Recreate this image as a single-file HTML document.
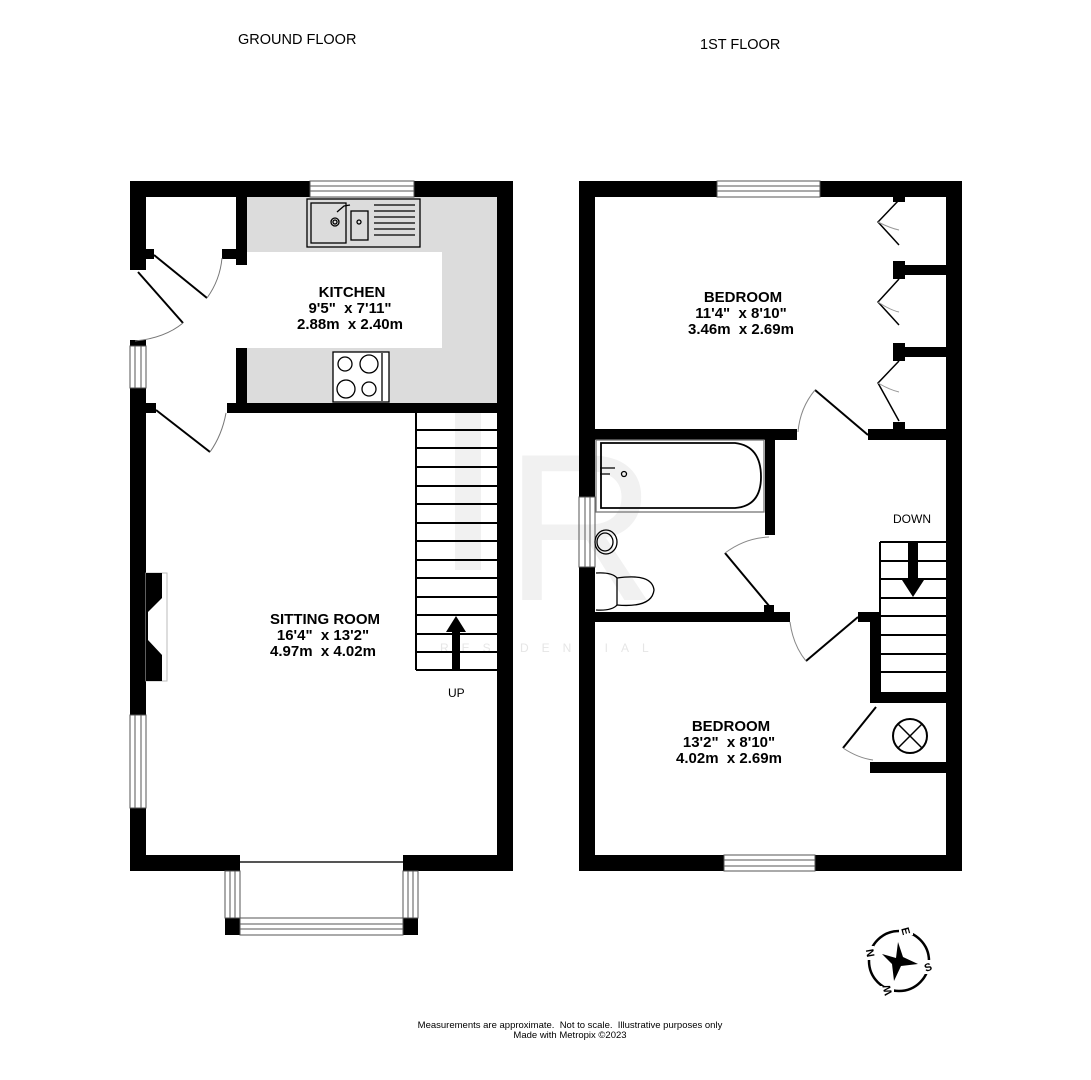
<!DOCTYPE html>
<html><head><meta charset="utf-8"><style>
html,body{margin:0;padding:0;background:#fff}
svg{display:block}
text{font-family:"Liberation Sans",Arial,sans-serif;white-space:pre}
</style></head><body>
<svg width="1091" height="1080" viewBox="0 0 1091 1080" xmlns="http://www.w3.org/2000/svg">
<rect width="1091" height="1080" fill="#fff"/>
<!-- watermark -->
<g>
<rect x="455" y="395" width="26" height="175" fill="#f1f1f1"/>
<text x="505" y="600" font-family="Liberation Serif,serif" font-size="210" fill="#f1f1f1">R</text>
<text x="440" y="652" font-size="12" letter-spacing="13" fill="#e6e6e6">RESIDENTIAL</text>
</g>
<text x="238" y="44" font-size="14.5">GROUND FLOOR</text>
<text x="700" y="49" font-size="14.5">1ST FLOOR</text>

<!-- ================= GROUND FLOOR ================= -->
<rect x="247" y="197" width="250" height="206" fill="#dcdcdc"/>
<rect x="247" y="252" width="195" height="96" fill="#fff"/>
<g fill="#000">
<rect x="130" y="181" width="180" height="16"/>
<rect x="414" y="181" width="99" height="16"/>
<rect x="497" y="181" width="16" height="689"/>
<rect x="130" y="181" width="16" height="89"/>
<rect x="146" y="249" width="8" height="10"/>
<rect x="130" y="340" width="16" height="6"/>
<rect x="130" y="388" width="16" height="327"/>
<rect x="130" y="808" width="16" height="62"/>
<rect x="146" y="403" width="10" height="10"/>
<rect x="130" y="855" width="110" height="16"/>
<rect x="403" y="855" width="110" height="16"/>
<rect x="236" y="197" width="11" height="68"/>
<rect x="222" y="249" width="25" height="10"/>
<rect x="236" y="348" width="11" height="60"/>
<rect x="227" y="403" width="270" height="10"/>
<rect x="225" y="855" width="15" height="16"/>
<rect x="403" y="855" width="15" height="16"/>
<rect x="225" y="918" width="15" height="17"/>
<rect x="403" y="918" width="15" height="17"/>
</g>
<g fill="none" stroke="#555" stroke-width="1">
<rect x="310" y="181" width="104" height="16"/>
<line x1="310" y1="186" x2="414" y2="186"/><line x1="310" y1="191" x2="414" y2="191"/>
<rect x="130" y="346" width="16" height="42"/>
<line x1="135" y1="346" x2="135" y2="388"/><line x1="141" y1="346" x2="141" y2="388"/>
<rect x="130" y="715" width="16" height="93"/>
<line x1="135" y1="715" x2="135" y2="808"/><line x1="141" y1="715" x2="141" y2="808"/>
<line x1="240" y1="862" x2="403" y2="862" stroke-width="2"/>
<rect x="225" y="871" width="15" height="47"/>
<line x1="230" y1="871" x2="230" y2="918"/><line x1="235" y1="871" x2="235" y2="918"/>
<rect x="403" y="871" width="15" height="47"/>
<line x1="408" y1="871" x2="408" y2="918"/><line x1="413" y1="871" x2="413" y2="918"/>
<rect x="240" y="918" width="163" height="17"/>
<line x1="240" y1="924" x2="403" y2="924"/><line x1="240" y1="929" x2="403" y2="929"/>
</g>
<g fill="none" stroke="#000" stroke-width="2">
<line x1="154" y1="255" x2="207" y2="298"/>
<line x1="138" y1="272" x2="183" y2="323"/>
<line x1="156" y1="410" x2="210" y2="452"/>
</g>
<g fill="none" stroke="#777" stroke-width="1">
<path d="M207 298 Q220 280 222 258"/>
<path d="M183 323 Q165 338 135 341"/>
<path d="M210 452 Q222 435 226 413"/>
</g>
<g fill="none" stroke="#000" stroke-width="1.3">
<rect x="307" y="199" width="113" height="48"/>
<rect x="311" y="203" width="35" height="40"/>
<rect x="351" y="211" width="17" height="29"/>
<circle cx="335" cy="222" r="4"/><circle cx="335" cy="222" r="2"/>
<circle cx="359" cy="222" r="2"/>
<path d="M337 212 L344 206 L350 205"/>
<line x1="374" y1="205" x2="415" y2="205"/><line x1="374" y1="211" x2="415" y2="211"/>
<line x1="374" y1="217" x2="415" y2="217"/><line x1="374" y1="223" x2="415" y2="223"/>
<line x1="374" y1="229" x2="415" y2="229"/><line x1="374" y1="235" x2="415" y2="235"/>
<rect x="333" y="352" width="56" height="50" fill="#fff"/>
<circle cx="345" cy="364" r="7"/><circle cx="369" cy="364" r="9"/>
<circle cx="346" cy="389" r="9"/><circle cx="369" cy="389" r="7"/>
<line x1="382" y1="353" x2="382" y2="401"/>
</g>
<text x="352" y="297" font-size="15" font-weight="bold" text-anchor="middle">KITCHEN</text>
<text x="350" y="313" font-size="15" font-weight="bold" text-anchor="middle">9'5"  x 7'11"</text>
<text x="350" y="329" font-size="15" font-weight="bold" text-anchor="middle">2.88m  x 2.40m</text>
<rect x="146" y="573" width="21" height="108" fill="none" stroke="#bbb"/>
<path d="M146 573 H162 V598 L148 612 V640 L162 655 V681 H146Z" fill="#000"/>
<g stroke="#000" stroke-width="2" fill="none">
<line x1="416" y1="413" x2="416" y2="670"/>
<line x1="416" y1="670" x2="497" y2="670"/>
<line x1="416" y1="430" x2="497" y2="430"/><line x1="416" y1="448" x2="497" y2="448"/>
<line x1="416" y1="467" x2="497" y2="467"/><line x1="416" y1="486" x2="497" y2="486"/>
<line x1="416" y1="504" x2="497" y2="504"/><line x1="416" y1="523" x2="497" y2="523"/>
<line x1="416" y1="541" x2="497" y2="541"/><line x1="416" y1="560" x2="497" y2="560"/>
<line x1="416" y1="578" x2="497" y2="578"/><line x1="416" y1="597" x2="497" y2="597"/>
<line x1="416" y1="615" x2="497" y2="615"/><line x1="416" y1="634" x2="497" y2="634"/>
<line x1="416" y1="652" x2="497" y2="652"/>
</g>
<path d="M452 670 V632 H446 L456 616 L466 632 H460 V670Z" fill="#000"/>
<text x="448" y="697" font-size="12">UP</text>
<text x="325" y="624" font-size="15" font-weight="bold" text-anchor="middle">SITTING ROOM</text>
<text x="323" y="640" font-size="15" font-weight="bold" text-anchor="middle">16'4"  x 13'2"</text>
<text x="323" y="656" font-size="15" font-weight="bold" text-anchor="middle">4.97m  x 4.02m</text>

<!-- ================= FIRST FLOOR ================= -->
<g fill="#000">
<rect x="579" y="181" width="138" height="16"/>
<rect x="820" y="181" width="142" height="16"/>
<rect x="946" y="181" width="16" height="689"/>
<rect x="579" y="181" width="16" height="316"/>
<rect x="579" y="567" width="16" height="303"/>
<rect x="579" y="855" width="145" height="16"/>
<rect x="815" y="855" width="147" height="16"/>
<rect x="595" y="429" width="202" height="11"/>
<rect x="868" y="429" width="78" height="11"/>
<rect x="765" y="440" width="10" height="95"/>
<rect x="595" y="612" width="195" height="10"/>
<rect x="764" y="605" width="10" height="8"/>
<rect x="858" y="612" width="22" height="10"/>
<rect x="870" y="612" width="10" height="88"/>
<rect x="870" y="692" width="76" height="11"/>
<rect x="870" y="762" width="76" height="11"/>
<rect x="895" y="265" width="51" height="10"/>
<rect x="895" y="347" width="51" height="10"/>
<rect x="893" y="261" width="12" height="18"/>
<rect x="893" y="343" width="12" height="18"/>
<rect x="893" y="422" width="12" height="8"/>
<rect x="893" y="196" width="12" height="6"/>
</g>
<g fill="none" stroke="#555" stroke-width="1">
<rect x="717" y="181" width="103" height="16"/>
<line x1="717" y1="186" x2="820" y2="186"/><line x1="717" y1="191" x2="820" y2="191"/>
<rect x="724" y="855" width="91" height="16"/>
<line x1="724" y1="860" x2="815" y2="860"/><line x1="724" y1="866" x2="815" y2="866"/>
<rect x="579" y="497" width="16" height="70"/>
<line x1="585" y1="497" x2="585" y2="567"/><line x1="590" y1="497" x2="590" y2="567"/>
</g>
<g fill="none" stroke="#000" stroke-width="1.5">
<path d="M899 200 L878 222 L899 245"/>
<path d="M899 279 L878 302 L899 325"/>
<path d="M899 361 L878 383 L899 421"/>
</g>
<g fill="none" stroke="#999" stroke-width="1">
<path d="M878 222 Q890 228 899 230"/><path d="M878 302 Q890 310 899 312"/><path d="M878 383 Q890 390 899 392"/>
</g>
<g fill="none" stroke="#000" stroke-width="2">
<line x1="868" y1="435" x2="815" y2="390"/>
<line x1="770" y1="607" x2="725" y2="553"/>
<line x1="858" y1="617" x2="806" y2="661"/>
<line x1="876" y1="707" x2="843" y2="748"/>
</g>
<g fill="none" stroke="#888" stroke-width="1">
<path d="M815 390 Q800 408 798 432"/>
<path d="M725 553 Q745 538 769 537"/>
<path d="M806 661 Q793 645 790 622"/>
<path d="M843 748 Q858 758 873 760"/>
</g>
<g fill="none" stroke="#000" stroke-width="1.3">
<rect x="596" y="440" width="168" height="72" stroke="#777"/>
<path d="M601 443 H735 Q761 446 761 477 Q761 506 735 508 H601Z" stroke-width="1.8"/>
<circle cx="624" cy="474" r="2.5"/>
<path d="M600 468 H615 M600 474 H610" />
<ellipse cx="606" cy="542" rx="11" ry="12"/>
<ellipse cx="605" cy="542" rx="8" ry="9"/>
<path d="M596 573 Q612 572 617 578 Q652 573 654 590 Q652 608 617 605 Q612 611 596 610"/>
<path d="M617 578 V605"/>
</g>
<g stroke="#000" stroke-width="2" fill="none">
<line x1="880" y1="542" x2="946" y2="542"/><line x1="880" y1="542" x2="880" y2="692"/>
<line x1="880" y1="561" x2="946" y2="561"/><line x1="880" y1="579" x2="946" y2="579"/>
<line x1="880" y1="598" x2="946" y2="598"/><line x1="880" y1="616" x2="946" y2="616"/>
<line x1="880" y1="635" x2="946" y2="635"/><line x1="880" y1="654" x2="946" y2="654"/>
<line x1="880" y1="672" x2="946" y2="672"/>
</g>
<path d="M908 542 V580 H902 L913 597 L924 580 H918 V542Z" fill="#000"/>
<text x="912" y="523" font-size="12" text-anchor="middle">DOWN</text>
<circle cx="910" cy="736" r="17" fill="none" stroke="#000" stroke-width="2"/>
<path d="M898 724 L922 748 M922 724 L898 748" stroke="#000" stroke-width="1.5"/>
<text x="743" y="302" font-size="15" font-weight="bold" text-anchor="middle">BEDROOM</text>
<text x="741" y="318" font-size="15" font-weight="bold" text-anchor="middle">11'4"  x 8'10"</text>
<text x="741" y="334" font-size="15" font-weight="bold" text-anchor="middle">3.46m  x 2.69m</text>
<text x="731" y="731" font-size="15" font-weight="bold" text-anchor="middle">BEDROOM</text>
<text x="729" y="747" font-size="15" font-weight="bold" text-anchor="middle">13'2"  x 8'10"</text>
<text x="729" y="763" font-size="15" font-weight="bold" text-anchor="middle">4.02m  x 2.69m</text>
<!-- compass -->
<circle cx="899" cy="961" r="30" fill="none" stroke="#000" stroke-width="2.5"/>
<path d="M898 942 L903 957 L918 964 L901 966 L894 981 L892 964 L882 954 L896 958Z" fill="#000"/>
<g font-size="11" font-weight="bold" text-anchor="middle">
<rect x="899" y="927" width="14" height="8" fill="#fff"/>
<rect x="924" y="960" width="8" height="14" fill="#fff"/>
<rect x="880" y="986" width="14" height="8" fill="#fff"/>
<rect x="866" y="946" width="8" height="14" fill="#fff"/>
<text x="906" y="935" transform="rotate(75 906 931)">E</text>
<text x="928" y="971" transform="rotate(-20 928 967)">S</text>
<text x="887" y="994" transform="rotate(-105 887 990)">W</text>
<text x="870" y="957" transform="rotate(-100 870 953)">N</text>
</g>
<text x="570" y="1028" font-size="9.5" text-anchor="middle">Measurements are approximate.  Not to scale.  Illustrative purposes only</text>
<text x="570" y="1038" font-size="9.5" text-anchor="middle">Made with Metropix ©2023</text>
</svg>
</body></html>
